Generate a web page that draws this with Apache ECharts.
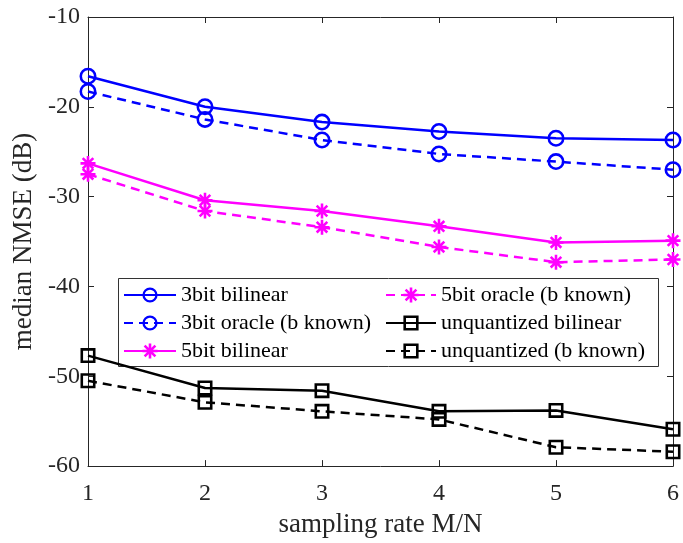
<!DOCTYPE html>
<html>
<head>
<meta charset="utf-8">
<script src="https://cdn.jsdelivr.net/npm/echarts@6/dist/echarts.min.js"></script>
<style>
html,body{margin:0;padding:0;background:#fff;}
#chart{width:683px;height:543px;}
</style>
</head>
<body>
<div id="chart"></div>
<script>
var xValues = [1, 2, 3, 4, 5, 6];
var bit3Bilinear = [-16.6, -20.0, -21.7, -22.75, -23.5, -23.7];
var bit3Oracle = [-18.3, -21.4, -23.7, -25.25, -26.1, -27.0];
var bit5Bilinear = [-26.3, -30.4, -31.6, -33.3, -35.1, -34.9];
var bit5Oracle = [-27.5, -31.6, -33.4, -35.6, -37.3, -37.0];
var unqBilinear = [-47.7, -51.3, -51.6, -53.9, -53.8, -55.9];
var unqKnown = [-50.5, -52.9, -53.9, -54.8, -57.9, -58.4];
var seriesNames = ['3bit bilinear', '3bit oracle (b known)', '5bit bilinear',
                   '5bit oracle (b known)', 'unquantized bilinear', 'unquantized (b known)'];

var FONT = '"Liberation Serif","DejaVu Serif",serif';
var AX = '#262626';
var ring = 'path://M0,-8 A8,8 0 1,1 0,8 A8,8 0 1,1 0,-8 Z M0,-5.6 A5.6,5.6 0 1,0 0,5.6 A5.6,5.6 0 1,0 0,-5.6 Z';
var sq = 'path://M-7,-7 L7,-7 L7,7 L-7,7 Z M-4.6,-4.6 L-4.6,4.6 L4.6,4.6 L4.6,-4.6 Z';
var ast = 'path://M-7,-1.2 L7,-1.2 L7,1.2 L-7,1.2 Z M-1.2,-7 L1.2,-7 L1.2,7 L-1.2,7 Z M-4.1,-5.8 L5.8,4.1 L4.1,5.8 L-5.8,-4.1 Z M-4.1,5.8 L-5.8,4.1 L4.1,-5.8 L5.8,-4.1 Z';

function pairs(arr){ return xValues.map(function(x,i){ return [x, arr[i]]; }); }
function mk(name, arr, color, dashed, symbol, size){
  return {
    name: name, type: 'line', data: pairs(arr),
    symbol: symbol, symbolSize: size, symbolKeepAspect: true,
    showAllSymbol: true,
    lineStyle: {color: color, width: 2.5, type: dashed ? [9, 6] : 'solid'},
    itemStyle: {color: color},
    emphasis: {disabled: true},
    animation: false, z: 3
  };
}

var chart = echarts.init(document.getElementById('chart'), null, {renderer: 'canvas'});
var legendCommon = {
  orient: 'vertical', itemHeight: 19, itemGap: 4, padding: 0,
  textStyle: {fontFamily: FONT, fontSize: 22, color: '#000', lineHeight: 24},
  selectedMode: false
};
chart.setOption({
  animation: false,
  backgroundColor: '#fff',
  grid: {left: 88, right: 10, top: 17, bottom: 74, containLabel: false},
  legend: [
    Object.assign({}, legendCommon, {left: 123, top: 283, itemWidth: 52, data: seriesNames.slice(0, 3)}),
    Object.assign({}, legendCommon, {left: 385, top: 283, itemWidth: 50, data: seriesNames.slice(3)})
  ],
  graphic: [{
    type: 'rect', left: 118, top: 278, z: 1,
    shape: {width: 540, height: 88},
    style: {fill: '#fff', stroke: '#333', lineWidth: 1}
  }],
  xAxis: [{
    type: 'value', min: 1, max: 6, interval: 1, position: 'bottom',
    name: 'sampling rate M/N', nameLocation: 'middle', nameGap: 40,
    nameTextStyle: {fontFamily: FONT, fontSize: 27, color: '#262626'},
    axisLine: {show: true, onZero: false, lineStyle: {color: AX, width: 1}},
    axisTick: {show: true, inside: true, length: 6, lineStyle: {color: AX}},
    axisLabel: {fontFamily: FONT, fontSize: 24, color: '#262626', margin: 16},
    splitLine: {show: false}
  }, {
    type: 'value', min: 1, max: 6, interval: 1, position: 'top',
    axisLine: {show: true, onZero: false, lineStyle: {color: AX, width: 1}},
    axisTick: {show: true, inside: true, length: 6, lineStyle: {color: AX}},
    axisLabel: {show: false}, splitLine: {show: false}
  }],
  yAxis: [{
    type: 'value', min: -60, max: -10, interval: 10, position: 'left',
    name: 'median NMSE (dB)', nameLocation: 'middle', nameGap: 44,
    nameTextStyle: {fontFamily: FONT, fontSize: 27, color: '#262626'},
    axisLine: {show: true, onZero: false, lineStyle: {color: AX, width: 1}},
    axisTick: {show: true, inside: true, length: 6, lineStyle: {color: AX}},
    axisLabel: {fontFamily: FONT, fontSize: 24, color: '#262626', margin: 8},
    splitLine: {show: false}
  }, {
    type: 'value', min: -60, max: -10, interval: 10, position: 'right',
    axisLine: {show: true, onZero: false, lineStyle: {color: AX, width: 1}},
    axisTick: {show: true, inside: true, length: 6, lineStyle: {color: AX}},
    axisLabel: {show: false}, splitLine: {show: false}
  }],
  series: [
    mk(seriesNames[0], bit3Bilinear, '#0000ff', false, ring, 17),
    mk(seriesNames[1], bit3Oracle, '#0000ff', true, ring, 17),
    mk(seriesNames[2], bit5Bilinear, '#ff00ff', false, ast, 15),
    mk(seriesNames[3], bit5Oracle, '#ff00ff', true, ast, 15),
    mk(seriesNames[4], unqBilinear, '#000000', false, sq, 15),
    mk(seriesNames[5], unqKnown, '#000000', true, sq, 15)
  ]
});
</script>
</body>
</html>
